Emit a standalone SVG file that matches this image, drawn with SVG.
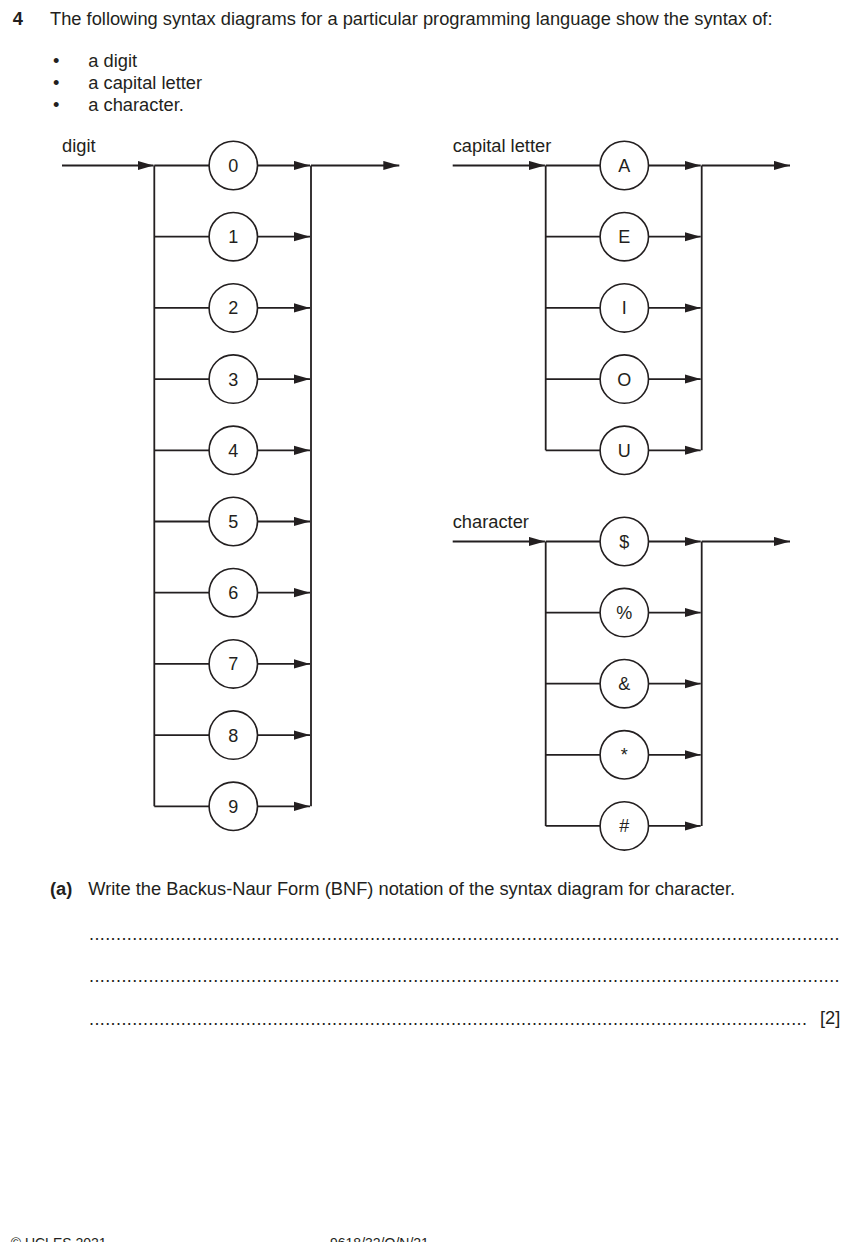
<svg xmlns="http://www.w3.org/2000/svg" width="852" height="1242" viewBox="0 0 852 1242">
<defs>
<style>
text{font-family:"Liberation Sans",Arial,sans-serif;fill:#231f20;font-size:18.3px}
.b{font-weight:bold}
.n text{text-anchor:middle;font-size:18px}
.n circle{fill:#fff;stroke:#231f20;stroke-width:1.6}
.c path{fill:none;stroke:#231f20;stroke-width:1.8}
.c .a{marker-end:url(#ah)}
.dots{font-size:18px}
.ft{font-size:14px}
</style>
<marker id="ah" markerUnits="userSpaceOnUse" markerWidth="17" markerHeight="11" refX="16" refY="5" orient="auto" viewBox="0 0 17 11">
<path d="M0,0.4 L16,5 L0,9.6 z" fill="#231f20" stroke="none"/>
</marker>
</defs>
<rect width="852" height="1242" fill="#fff"/>

<g id="question">
<text x="12.7" y="25" class="b">4</text>
<text x="50" y="25">The following syntax diagrams for a particular programming language show the syntax of:</text>
<text x="53" y="66.7">•</text><text x="88.3" y="66.7">a digit</text>
<text x="53" y="89">•</text><text x="88.3" y="89">a capital letter</text>
<text x="53" y="111">•</text><text x="88.3" y="111">a character.</text>
</g>

<g id="labels">
<text x="62" y="152">digit</text>
<text x="452.7" y="152">capital letter</text>
<text x="452.7" y="528">character</text>
</g>

<g id="connectors" class="c">
<!-- digit -->
<path class="a" d="M62,165.5 H153.5"/>
<path d="M154.3,165.5 V806.3"/>
<path d="M311,165.5 V806.3"/>
<path class="a" d="M311,165.5 H399.3"/>
<path d="M154.3,165.5 H209.1"/><path class="a" d="M257.5,165.5 H310"/>
<path d="M154.3,236.7 H209.1"/><path class="a" d="M257.5,236.7 H310"/>
<path d="M154.3,307.9 H209.1"/><path class="a" d="M257.5,307.9 H310"/>
<path d="M154.3,379.1 H209.1"/><path class="a" d="M257.5,379.1 H310"/>
<path d="M154.3,450.3 H209.1"/><path class="a" d="M257.5,450.3 H310"/>
<path d="M154.3,521.5 H209.1"/><path class="a" d="M257.5,521.5 H310"/>
<path d="M154.3,592.7 H209.1"/><path class="a" d="M257.5,592.7 H310"/>
<path d="M154.3,663.9 H209.1"/><path class="a" d="M257.5,663.9 H310"/>
<path d="M154.3,735.1 H209.1"/><path class="a" d="M257.5,735.1 H310"/>
<path d="M154.3,806.3 H209.1"/><path class="a" d="M257.5,806.3 H310"/>
<!-- capital letter -->
<path class="a" d="M452.7,165.5 H544.9"/>
<path d="M545.7,165.5 V450.3"/>
<path d="M701.7,165.5 V450.3"/>
<path class="a" d="M701.7,165.5 H790"/>
<path d="M545.7,165.5 H600.1"/><path class="a" d="M648.5,165.5 H700.7"/>
<path d="M545.7,236.7 H600.1"/><path class="a" d="M648.5,236.7 H700.7"/>
<path d="M545.7,307.9 H600.1"/><path class="a" d="M648.5,307.9 H700.7"/>
<path d="M545.7,379.1 H600.1"/><path class="a" d="M648.5,379.1 H700.7"/>
<path d="M545.7,450.3 H600.1"/><path class="a" d="M648.5,450.3 H700.7"/>
<!-- character -->
<path class="a" d="M452.7,541.5 H544.9"/>
<path d="M545.7,541.5 V825.9"/>
<path d="M701.7,541.5 V825.9"/>
<path class="a" d="M701.7,541.5 H790"/>
<path d="M545.7,541.5 H600.1"/><path class="a" d="M648.5,541.5 H700.7"/>
<path d="M545.7,612.6 H600.1"/><path class="a" d="M648.5,612.6 H700.7"/>
<path d="M545.7,683.7 H600.1"/><path class="a" d="M648.5,683.7 H700.7"/>
<path d="M545.7,754.8 H600.1"/><path class="a" d="M648.5,754.8 H700.7"/>
<path d="M545.7,825.9 H600.1"/><path class="a" d="M648.5,825.9 H700.7"/>
</g>

<g class="n">
<g id="d0"><circle cx="233.3" cy="165.5" r="24.2"/><text x="233.3" y="171.9">0</text></g>
<g id="d1"><circle cx="233.3" cy="236.7" r="24.2"/><text x="233.3" y="243.1">1</text></g>
<g id="d2"><circle cx="233.3" cy="307.9" r="24.2"/><text x="233.3" y="314.3">2</text></g>
<g id="d3"><circle cx="233.3" cy="379.1" r="24.2"/><text x="233.3" y="385.5">3</text></g>
<g id="d4"><circle cx="233.3" cy="450.3" r="24.2"/><text x="233.3" y="456.7">4</text></g>
<g id="d5"><circle cx="233.3" cy="521.5" r="24.2"/><text x="233.3" y="527.9">5</text></g>
<g id="d6"><circle cx="233.3" cy="592.7" r="24.2"/><text x="233.3" y="599.1">6</text></g>
<g id="d7"><circle cx="233.3" cy="663.9" r="24.2"/><text x="233.3" y="670.3">7</text></g>
<g id="d8"><circle cx="233.3" cy="735.1" r="24.2"/><text x="233.3" y="741.5">8</text></g>
<g id="d9"><circle cx="233.3" cy="806.3" r="24.2"/><text x="233.3" y="812.7">9</text></g>

<g id="cA"><circle cx="624.3" cy="165.5" r="24.2"/><text x="624.3" y="171.9">A</text></g>
<g id="cE"><circle cx="624.3" cy="236.7" r="24.2"/><text x="624.3" y="243.1">E</text></g>
<g id="cI"><circle cx="624.3" cy="307.9" r="24.2"/><text x="624.3" y="314.3">I</text></g>
<g id="cO"><circle cx="624.3" cy="379.1" r="24.2"/><text x="624.3" y="385.5">O</text></g>
<g id="cU"><circle cx="624.3" cy="450.3" r="24.2"/><text x="624.3" y="456.7">U</text></g>

<g id="chDollar"><circle cx="624.3" cy="541.5" r="24.2"/><text x="624.3" y="547.9">$</text></g>
<g id="chPercent"><circle cx="624.3" cy="612.6" r="24.2"/><text x="624.3" y="619">%</text></g>
<g id="chAmp"><circle cx="624.3" cy="683.7" r="24.2"/><text x="624.3" y="690.1">&amp;</text></g>
<g id="chStar"><circle cx="624.3" cy="754.8" r="24.2"/><text x="624.3" y="761.2">*</text></g>
<g id="chHash"><circle cx="624.3" cy="825.9" r="24.2"/><text x="624.3" y="832.3">#</text></g>
</g>

<g id="part-a">
<text x="50" y="895" class="b">(a)</text>
<text x="88.3" y="895">Write the Backus-Naur Form (BNF) notation of the syntax diagram for character.</text>
<text class="dots" x="89" y="939.5" textLength="750.6" lengthAdjust="spacing">...........................................................................................................................................</text>
<text class="dots" x="89" y="982" textLength="750.6" lengthAdjust="spacing">...........................................................................................................................................</text>
<text class="dots" x="89" y="1024.5" textLength="718" lengthAdjust="spacing">.....................................................................................................................................</text>
<text x="820" y="1024">[2]</text>
</g>

<g id="footer">
<text class="ft" x="10.7" y="1248">© UCLES 2021</text>
<text class="ft" x="330" y="1248">9618/32/O/N/21</text>
</g>
</svg>
